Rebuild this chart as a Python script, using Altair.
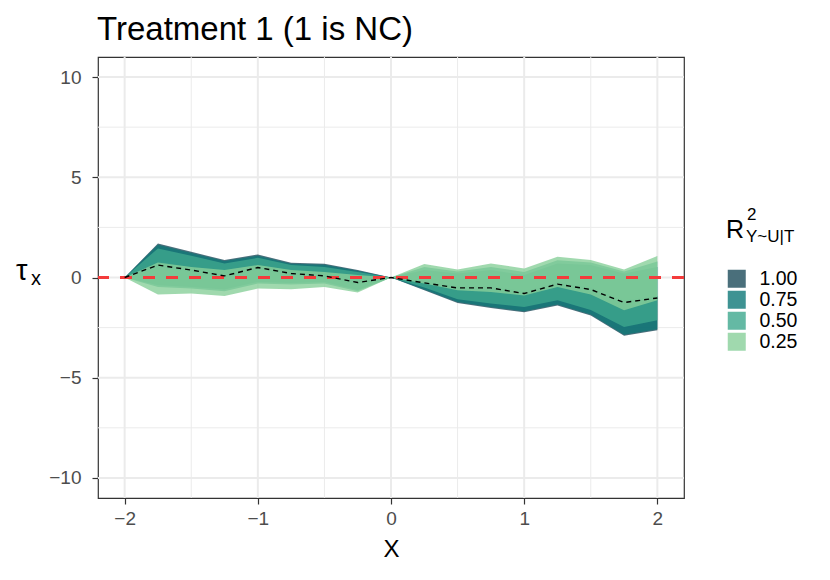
import altair as alt
import pandas as pd

# ---- data ----
x_vals = [-2, -1.75, -1.5, -1.25, -1, -0.75, -0.5, -0.25, 0,
          0.25, 0.5, 0.75, 1, 1.25, 1.5, 1.75, 2]
estimate = [0, 0.62, 0.37, 0.08, 0.50, 0.20, 0.08, -0.25, 0,
            -0.27, -0.52, -0.52, -0.80, -0.33, -0.60, -1.25, -1.02]

r2_levels = ["1.00", "0.75", "0.50", "0.25"]
lower_100 = [0, 0.52, 0.27, -0.02, 0.40, 0.10, -0.02, -0.35, 0,
             -0.64, -1.27, -1.52, -1.73, -1.40, -1.90, -2.90, -2.63]
upper_100 = [0, 1.70, 1.28, 0.87, 1.15, 0.73, 0.68, 0.37, 0,
             -0.17, -0.42, -0.42, -0.70, -0.23, -0.50, -1.15, -0.92]
lower_075 = [0, -0.39, -0.47, -0.60, -0.22, -0.27, -0.22, -0.62, 0,
             -0.60, -1.22, -1.47, -1.68, -1.35, -1.85, -2.85, -2.58]
upper_075 = [0, 1.64, 1.22, 0.82, 1.09, 0.68, 0.63, 0.34, 0,
             0.37, 0.20, 0.37, 0.12, 0.70, 0.62, 0.20, 0.53]
lower_050 = [0, -0.47, -0.55, -0.68, -0.30, -0.35, -0.30, -0.68, 0,
             -0.50, -1.08, -1.30, -1.47, -1.13, -1.62, -2.47, -2.13]
upper_050 = [0, 1.45, 1.08, 0.70, 0.98, 0.62, 0.53, 0.28, 0,
             0.52, 0.30, 0.53, 0.28, 0.86, 0.75, 0.30, 0.80]
lower_025 = [0, -0.85, -0.80, -0.92, -0.55, -0.58, -0.47, -0.75, 0,
             -0.30, -0.63, -0.72, -0.90, -0.47, -0.85, -1.63, -1.13]
upper_025 = [0, 0.75, 0.53, 0.37, 0.62, 0.37, 0.28, 0.12, 0,
             0.67, 0.40, 0.70, 0.45, 1.03, 0.87, 0.40, 1.07]

reference_line = [0]
x_ticks = [-2, -1, 0, 1, 2]
x_minor = [-1.5, -0.5, 0.5, 1.5]
y_ticks = [-10, -5, 0, 5, 10]
y_minor = [-7.5, -2.5, 2.5, 7.5]

band_colors = ["#1d4b5a", "#0e7878", "#3da78d", "#88cf9a"]

# ---- tables ----
bounds = {
    "1.00": (lower_100, upper_100),
    "0.75": (lower_075, upper_075),
    "0.50": (lower_050, upper_050),
    "0.25": (lower_025, upper_025),
}
rows = []
for lev in r2_levels:
    lo, hi = bounds[lev]
    for xv, a, b in zip(x_vals, lo, hi):
        rows.append({"x": xv, "r2": lev, "lo": a, "hi": b})
bands = pd.DataFrame(rows)
est_df = pd.DataFrame({"x": x_vals, "est": estimate})

FONT = "Liberation Sans"
xs = alt.Scale(domain=[-2.2, 2.2], nice=False, zero=False)
ys = alt.Scale(domain=[-11, 11], nice=False, zero=False)

x_axis = alt.Axis(values=x_ticks, title="X", grid=False, domain=False,
                  tickSize=6, tickColor="#333333", tickWidth=1.2,
                  labelFontSize=19, labelColor="#4d4d4d", labelFont=FONT,
                  labelPadding=5, titleFont=FONT, titleFontSize=24,
                  titleFontWeight="normal", titleColor="black",
                  titleBaseline="alphabetic", titleY=58)
y_axis = alt.Axis(values=y_ticks, title=None, grid=False, domain=False,
                  tickSize=6, tickColor="#333333", tickWidth=1.2,
                  labelFontSize=19, labelColor="#4d4d4d", labelFont=FONT,
                  labelPadding=11)

color_scale = alt.Scale(domain=r2_levels, range=band_colors)
legend = alt.Legend(title=None, orient="none", legendX=629, legendY=212,
                    symbolType="square", symbolSize=324, symbolStrokeWidth=0,
                    symbolOpacity=0.8, labelFontSize=19.5, labelFont=FONT,
                    labelColor="black", labelOffset=13, rowPadding=0,
                    padding=0)

def rules_x(vals, width):
    return alt.Chart(pd.DataFrame({"x": vals})).mark_rule(
        color="#ebebeb", strokeWidth=width).encode(
        x=alt.X("x:Q", scale=xs, axis=x_axis))

def rules_y(vals, width):
    return alt.Chart(pd.DataFrame({"y": vals})).mark_rule(
        color="#ebebeb", strokeWidth=width).encode(
        y=alt.Y("y:Q", scale=ys, axis=y_axis))

layers = [rules_x(x_minor, 1.0), rules_y(y_minor, 1.0),
          rules_x(x_ticks, 2.0), rules_y(y_ticks, 2.0)]

for lev in r2_levels:
    layers.append(
        alt.Chart(bands[bands["r2"] == lev]).mark_area(opacity=0.8).encode(
            x=alt.X("x:Q", scale=xs, axis=x_axis),
            y=alt.Y("lo:Q", scale=ys, axis=y_axis),
            y2="hi:Q",
            color=alt.Color("r2:N", scale=color_scale, legend=legend),
        )
    )

layers.append(
    alt.Chart(pd.DataFrame({"y": reference_line})).mark_rule(
        color="#f43b3b", strokeWidth=3, strokeDash=[12, 11]).encode(
        y=alt.Y("y:Q", scale=ys, axis=y_axis))
)
layers.append(
    alt.Chart(est_df).mark_line(color="black", strokeWidth=1.4,
                                strokeDash=[5, 4]).encode(
        x=alt.X("x:Q", scale=xs, axis=x_axis),
        y=alt.Y("est:Q", scale=ys, axis=y_axis))
)

def label(txt, px, py, size):
    return alt.Chart(pd.DataFrame({"a": [0]})).mark_text(
        font=FONT, fontSize=size, color="black", align="left",
        baseline="alphabetic").encode(
        x=alt.value(px), y=alt.value(py), text=alt.value(txt))

layers += [
    label("Treatment 1 (1 is NC)", -1, -17, 33),
    label("τ", -82, 223, 29),
    label("x", -67, 228, 20),
    label("R", 628, 181.3, 25),
    label("2", 649, 163, 17),
    label("Y~U|T", 648, 184.7, 17),
]

chart = alt.layer(*layers).properties(
    width=586, height=441,
    padding={"left": 90, "top": 49, "right": 130, "bottom": 66},
    autosize=alt.AutoSizeParams(type="none"),
).configure_view(stroke="#333333", strokeWidth=1.2)

chart.save("out.html", embed_options={"renderer": "svg", "actions": False})
